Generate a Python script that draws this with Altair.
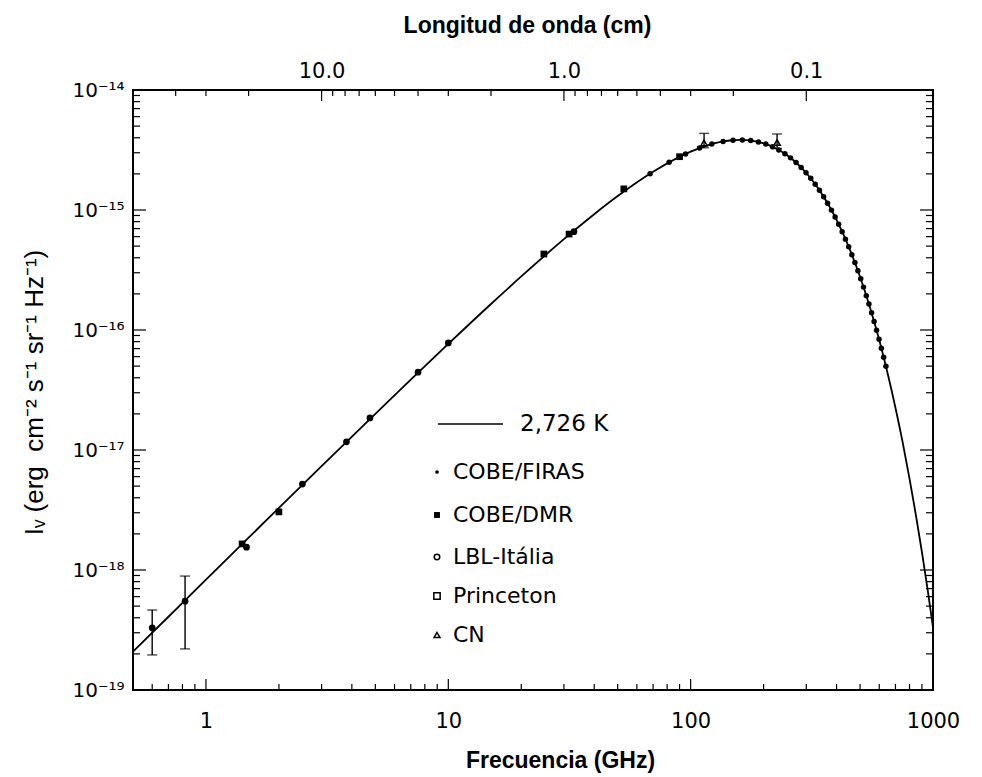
import altair as alt
import pandas as pd

# ---------------- data ----------------
# 2.726 K curve (frequency GHz, intensity erg cm^-2 s^-1 sr^-1 Hz^-1)
nu_curve = [0.5, 0.7, 1, 1.5, 2, 3, 5, 7, 10, 15, 20, 30, 40, 50, 70, 100, 115, 130,
            145, 160, 180, 200, 220, 250, 275, 300, 325, 350, 375, 400, 450, 500,
            550, 600, 650, 700, 750, 800, 850, 900, 950, 1000]
I_curve = [2.085e-19, 4.078e-19, 8.301e-19, 1.860e-18, 3.291e-18, 7.340e-18, 2.003e-17,
           3.856e-17, 7.659e-17, 1.647e-16, 2.795e-16, 5.721e-16, 9.231e-16, 1.306e-15,
           2.082e-15, 3.062e-15, 3.412e-15, 3.655e-15, 3.796e-15, 3.841e-15, 3.775e-15,
           3.594e-15, 3.334e-15, 2.860e-15, 2.440e-15, 2.035e-15, 1.663e-15, 1.336e-15,
           1.058e-15, 8.263e-16, 4.873e-16, 2.774e-16, 1.530e-16, 8.242e-17, 4.342e-17,
           2.248e-17, 1.151e-17, 5.772e-18, 2.871e-18, 1.413e-18, 6.891e-19, 3.333e-19]

firas_nu = [68.0, 81.5, 95.3, 108.8, 122.3, 136.1, 149.6, 163.4, 176.9, 190.4, 204.2,
            217.6, 231.1, 244.9, 258.4, 272.2, 285.7, 299.2, 313.0, 326.5, 340.0, 353.8,
            367.2, 381.0, 394.5, 408.0, 421.8, 435.3, 448.8, 462.6, 476.1, 489.9, 503.3,
            516.8, 530.6, 544.1, 557.9, 571.4, 584.9, 598.7, 612.2, 625.7, 639.4]
firas_I = [2.006e-15, 2.495e-15, 2.931e-15, 3.280e-15, 3.544e-15, 3.725e-15, 3.819e-15,
           3.839e-15, 3.793e-15, 3.693e-15, 3.545e-15, 3.368e-15, 3.166e-15, 2.945e-15,
           2.719e-15, 2.487e-15, 2.264e-15, 2.047e-15, 1.836e-15, 1.642e-15, 1.461e-15,
           1.290e-15, 1.139e-15, 9.977e-16, 8.731e-16, 7.615e-16, 6.598e-16, 5.718e-16,
           4.940e-16, 4.242e-16, 3.646e-16, 3.115e-16, 2.668e-16, 2.277e-16, 1.934e-16,
           1.644e-16, 1.390e-16, 1.178e-16, 9.958e-17, 8.377e-17, 7.061e-17, 5.940e-17,
           4.980e-17]

dmr_nu = [31.5, 53.0, 90.0]
dmr_I = [6.30e-16, 1.50e-15, 2.78e-15]

lbl_nu = [0.6, 0.82, 1.47, 2.5, 3.8, 4.75, 7.5, 10.0, 33.0]
lbl_I = [3.30e-19, 5.50e-19, 1.55e-18, 5.20e-18, 1.17e-17, 1.85e-17, 4.45e-17, 7.80e-17, 6.60e-16]

pr_nu = [1.41, 2.0, 24.8]
pr_I = [1.65e-18, 3.05e-18, 4.30e-16]

cn_nu = [113.6, 227.3]
cn_I = [3.62e-15, 3.65e-15]

err_nu = [0.6, 0.82, 113.6, 227.3]
err_lo = [1.96e-19, 2.20e-19, 3.30e-15, 3.25e-15]
err_hi = [4.64e-19, 8.90e-19, 4.35e-15, 4.30e-15]

# axis ticks / labels
x_major = [1, 10, 100, 1000]
x_minor = [0.6, 0.7, 0.8, 0.9, 2, 3, 4, 5, 6, 7, 8, 9, 20, 30, 40, 50, 60, 70, 80, 90,
           200, 300, 400, 500, 600, 700, 800, 900]
y_exp = [-19, -18, -17, -16, -15, -14]
y_labels = ["10⁻¹⁹", "10⁻¹⁸", "10⁻¹⁷", "10⁻¹⁶", "10⁻¹⁵", "10⁻¹⁴"]
y_minor_mult = [2, 3, 4, 5, 6, 7, 8, 9]
lam_major = [10, 1, 0.1]          # wavelength (cm)
lam_minor = [40, 30, 20, 9, 8, 7, 6, 5, 4, 3, 2, 0.9, 0.8, 0.7, 0.6, 0.5, 0.4, 0.3, 0.2]
C_CM_GHZ = 30.0                   # lambda[cm] = 30 / nu[GHz]

legend_labels = ["2,726 K", "COBE/FIRAS", "COBE/DMR", "LBL-Itália", "Princeton", "CN"]
NB = "\u00a0"
y_title = f"Iᵥ{NB}(erg{NB}{NB}cm⁻²{NB}s⁻¹{NB}sr⁻¹{NB}Hz⁻¹)"

# ---------------- layout ----------------
W, H = 800, 600
NUM_FONT = "DejaVu Sans"
TITLE_FONT = "Liberation Sans Narrow, Liberation Sans, Arial"
LEG_FONT = "DejaVu Sans"

xs = alt.Scale(type="log", domain=[0.5, 1000], nice=False)
ys = alt.Scale(type="log", domain=[1e-19, 1e-14], nice=False)

y_major = [10.0 ** e for e in y_exp]
y_minor = [m * 10.0 ** e for e in y_exp[:-1] for m in y_minor_mult]

label_expr = " : ".join(
    f"abs(log(datum.value)/LN10 - ({e})) < 0.01 ? '{lab}'" for e, lab in zip(y_exp, y_labels)
) + " : ''"

curve_df = pd.DataFrame({"nu": nu_curve, "I": I_curve})
firas_df = pd.DataFrame({"nu": firas_nu, "I": firas_I})
dmr_df = pd.DataFrame({"nu": dmr_nu, "I": dmr_I})
lbl_df = pd.DataFrame({"nu": lbl_nu, "I": lbl_I})
pr_df = pd.DataFrame({"nu": pr_nu, "I": pr_I})
cn_df = pd.DataFrame({"nu": cn_nu, "I": cn_I})
err_df = pd.DataFrame({"nu": err_nu, "lo": err_lo, "hi": err_hi})
one = pd.DataFrame({"k": [0]})

xaxis = alt.Axis(orient="bottom", values=x_major, format="d", ticks=False, domain=False,
                 grid=False, labelFlush=False, labelOverlap=False,
                 labelFont=NUM_FONT, labelFontSize=21, labelPadding=20, labelColor="black",
                 title="Frecuencia (GHz)", titleFont=TITLE_FONT, titleFontSize=23,
                 titleFontWeight="bold", titleColor="black", titleX=427, titleY=70,
                 titleAlign="center", titleBaseline="middle")
yaxis = alt.Axis(orient="left", values=y_major, labelExpr=label_expr, ticks=False, domain=False,
                 grid=False, labelFlush=False, labelOverlap=False,
                 labelFont=NUM_FONT, labelFontSize=20, labelPadding=9, labelColor="black",
                 title=y_title, titleFont="Liberation Sans",
                 titleFontSize=26, titleFontWeight="normal", titleColor="black",
                 titleX=-99, titleY=302, titleAngle=-90, titleAlign="center",
                 titleBaseline="middle")
top_axis = alt.Axis(orient="top", values=[C_CM_GHZ / v for v in lam_major],
                    labelExpr=f"format({C_CM_GHZ}/datum.value, '.1f')", ticks=False,
                    domain=False, grid=False, labelFlush=False, labelOverlap=False,
                    labelFont=NUM_FONT, labelFontSize=21, labelPadding=9, labelColor="black",
                    title="Longitud de onda (cm)", titleFont=TITLE_FONT, titleFontSize=23,
                    titleFontWeight="bold", titleColor="black", titleX=394, titleY=-65,
                    titleAlign="center", titleBaseline="middle")

curve = alt.Chart(curve_df).mark_line(color="black", strokeWidth=1.8, interpolate="monotone").encode(
    x=alt.X("nu:Q", scale=xs, axis=xaxis),
    y=alt.Y("I:Q", scale=ys, axis=yaxis),
)


def pts(df, shape, size, filled=True, sw=1.5):
    return alt.Chart(df).mark_point(shape=shape, size=size, filled=filled, color="black",
                                    opacity=1, strokeWidth=sw).encode(
        x=alt.X("nu:Q", scale=xs, axis=None),
        y=alt.Y("I:Q", scale=ys, axis=None),
    )


err_rule = alt.Chart(err_df).mark_rule(color="black", strokeWidth=1.4).encode(
    x=alt.X("nu:Q", scale=xs, axis=None),
    y=alt.Y("lo:Q", scale=ys, axis=None),
    y2="hi:Q",
)
cap_lo = alt.Chart(err_df).mark_tick(orient="horizontal", size=10, thickness=1.4, color="black").encode(
    x=alt.X("nu:Q", scale=xs, axis=None),
    y=alt.Y("lo:Q", scale=ys, axis=None),
)
cap_hi = alt.Chart(err_df).mark_tick(orient="horizontal", size=10, thickness=1.4, color="black").encode(
    x=alt.X("nu:Q", scale=xs, axis=None),
    y=alt.Y("hi:Q", scale=ys, axis=None),
)


def xticks(vals, length, top=False, axis=None):
    y0 = 0 if top else H
    y1 = length if top else H - length
    return alt.Chart(pd.DataFrame({"v": vals})).mark_rule(color="black", strokeWidth=1.2).encode(
        x=alt.X("v:Q", scale=xs, axis=axis), y=alt.value(y0), y2=alt.value(y1))


def yticks(vals, length, right=False):
    x0 = W if right else 0
    x1 = W - length if right else length
    return alt.Chart(pd.DataFrame({"v": vals})).mark_rule(color="black", strokeWidth=1.2).encode(
        y=alt.Y("v:Q", scale=ys, axis=None), x=alt.value(x0), x2=alt.value(x1))


def txt(s, x, y, size=22):
    return alt.Chart(one).mark_text(align="left", baseline="middle", font=LEG_FONT,
                                    fontSize=size, color="black").encode(
        x=alt.value(x), y=alt.value(y), text=alt.value(s))


def sym(shape, x, y, size, filled=True):
    return alt.Chart(one).mark_point(shape=shape, size=size, filled=filled, color="black",
                                     opacity=1, strokeWidth=1.5).encode(
        x=alt.value(x), y=alt.value(y))


leg_line = alt.Chart(one).mark_rule(color="black", strokeWidth=1.6).encode(
    x=alt.value(305), x2=alt.value(370), y=alt.value(334))

legend = [
    leg_line, txt(legend_labels[0], 387, 334, 23),
    sym("circle", 304, 382, 14), txt(legend_labels[1], 320, 382),
    sym("square", 304, 425, 35), txt(legend_labels[2], 320, 425),
    sym("circle", 304, 467, 30, False), txt(legend_labels[3], 320, 467),
    sym("square", 304, 506, 40, False), txt(legend_labels[4], 320, 506),
    sym("triangle-up", 304, 545, 35, False), txt(legend_labels[5], 320, 545),
]

top_major_nu = [C_CM_GHZ / v for v in lam_major]
top_minor_nu = [C_CM_GHZ / v for v in lam_minor]

chart = alt.layer(
    curve,
    err_rule, cap_lo, cap_hi,
    pts(firas_df, "circle", 30),
    pts(dmr_df, "square", 45),
    pts(lbl_df, "circle", 45),
    pts(pr_df, "square", 45),
    pts(cn_df, "triangle-up", 40, False),
    xticks(x_major, 11), xticks(x_minor, 6),
    xticks(top_major_nu, 11, top=True, axis=top_axis), xticks(top_minor_nu, 6, top=True),
    yticks(y_major, 13), yticks(y_minor, 7),
    yticks(y_major, 13, True), yticks(y_minor, 7, True),
    *legend,
).resolve_axis(x="independent", y="independent").properties(
    width=W, height=H,
    autosize=alt.AutoSizeParams(type="none"),
    padding={"left": 133, "top": 90, "right": 49, "bottom": 87},
    background="white",
).configure_view(stroke="black", strokeWidth=2)

chart.save("out.html", embed_options={"renderer": "svg", "actions": False})
